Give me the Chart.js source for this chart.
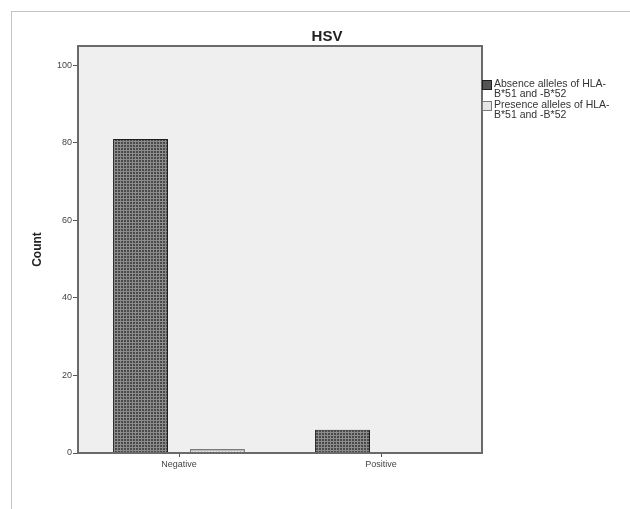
<!DOCTYPE html>
<html>
<head>
<meta charset="utf-8">
<script src="https://cdn.jsdelivr.net/npm/chart.js@4.4.1/dist/chart.umd.min.js"></script>
<style>
    html, body { margin: 0; padding: 0; background: #fff; overflow: hidden; }
    body { width: 630px; height: 509px; position: relative; font-family: "Liberation Sans", Arial, sans-serif; }
    #frame { position: absolute; left: 11px; top: 11px; width: 632px; height: 498px; border-left: 1px solid #c4c4c4; border-top: 1px solid #c4c4c4; }
    #wrap { position: absolute; left: 0; top: 0; width: 632px; height: 497px; }
    #title { position: absolute; left: 277px; width: 100px; top: 27px; text-align: center; font-size: 15px; font-weight: bold; color: #222; line-height: 18px; }
    #legend { position: absolute; left: 482px; top: 78px; font-size: 10.5px; color: #333; line-height: 10px; }
    .item { position: relative; padding-left: 12px; margin-bottom: 1px; }
    .box { position: absolute; left: 0; top: 2px; width: 8px; height: 8px; }
</style>
</head>
<body>
<div id="frame">
    <div id="wrap"><canvas id="chart"></canvas></div>
</div>
<div id="title">HSV</div>
<div id="legend"></div>
<script>
// data
const categories = ["Negative", "Positive"];
const absenceCounts = [81, 6];
const presenceCounts = [1, 0];
const seriesNames = ["Absence alleles of HLA-\nB*51 and -B*52", "Presence alleles of HLA-\nB*51 and -B*52"];
const yTicks = [0, 20, 40, 60, 80, 100];

// small grid patterns like the SPSS fill
function makePattern(bg, line) {
    const c = document.createElement("canvas");
    c.width = 3; c.height = 3;
    const g = c.getContext("2d");
    g.fillStyle = bg;
    g.fillRect(0, 0, 3, 3);
    g.fillStyle = line;
    g.fillRect(0, 0, 1, 3);
    g.fillRect(0, 0, 3, 1);
    return g.createPattern(c, "repeat");
}
const darkFill = makePattern("#4a4a4a", "#8c8c8c");
const lightFill = makePattern("#e4e4e4", "#bdbdbd");

// plot background + frame
const plotFrame = {
    id: "plotFrame",
    beforeDraw(chart) {
        const a = chart.chartArea, ctx = chart.ctx;
        ctx.save();
        ctx.fillStyle = "#efefef";
        ctx.fillRect(a.left, a.top, a.right - a.left, a.bottom - a.top);
        ctx.restore();
    },
    afterDraw(chart) {
        const a = chart.chartArea, ctx = chart.ctx;
        ctx.save();
        ctx.strokeStyle = "#6a6a6a";
        ctx.lineWidth = 2;
        ctx.strokeRect(a.left, a.top, a.right - a.left, a.bottom - a.top);
        ctx.restore();
    }
};

new Chart(document.getElementById("chart"), {
    type: "bar",
    data: {
        labels: categories,
        datasets: [
            {
                label: seriesNames[0],
                data: absenceCounts,
                backgroundColor: darkFill,
                borderColor: "#1e1e1e",
                borderWidth: 1,
                categoryPercentage: 0.762,
                barPercentage: 0.714
            },
            {
                label: seriesNames[1],
                data: presenceCounts,
                backgroundColor: lightFill,
                borderColor: "#7a7a7a",
                borderWidth: 1,
                categoryPercentage: 0.762,
                barPercentage: 0.714
            }
        ]
    },
    plugins: [plotFrame],
    options: {
        responsive: true,
        maintainAspectRatio: false,
        animation: false,
        layout: { padding: { left: 0, right: 162, top: 34, bottom: 0 } },
        plugins: {
            legend: { display: false },
            tooltip: { enabled: false },
            title: { display: false }
        },
        scales: {
            x: {
                grid: { offset: false, drawOnChartArea: false, drawTicks: true, tickLength: 4, color: "#555" },
                border: { display: true, color: "#6a6a6a", width: 2 },
                ticks: { color: "#444", font: { family: "Liberation Sans", size: 9 }, padding: 2 },
                afterFit(scale) { scale.height = 56; }
            },
            y: {
                min: 0,
                max: 105,
                afterBuildTicks(scale) { scale.ticks = yTicks.map(v => ({ value: v })); },
                grid: { drawOnChartArea: false, drawTicks: true, tickLength: 5, color: "#555" },
                border: { display: true, color: "#6a6a6a", width: 2 },
                ticks: { color: "#444", font: { family: "Liberation Sans", size: 9 }, padding: 1 },
                title: {
                    display: true,
                    text: "Count",
                    color: "#222",
                    font: { family: "Liberation Sans", size: 12, weight: "bold" },
                    padding: { top: 18, bottom: 0 }
                },
                afterFit(scale) { scale.width = 66; }
            }
        }
    }
});

// legend on the right, two lines per entry
const legendEl = document.getElementById("legend");
const boxStyles = [
    "background:#555;border:1px solid #1e1e1e;",
    "background:#e6e6e6;border:1px solid #7a7a7a;"
];
seriesNames.forEach((name, i) => {
    const item = document.createElement("div");
    item.className = "item";
    item.innerHTML = '<span class="box" style="' + boxStyles[i] + '"></span>' + name.replace("\n", "<br>");
    legendEl.appendChild(item);
});
</script>
</body>
</html>
